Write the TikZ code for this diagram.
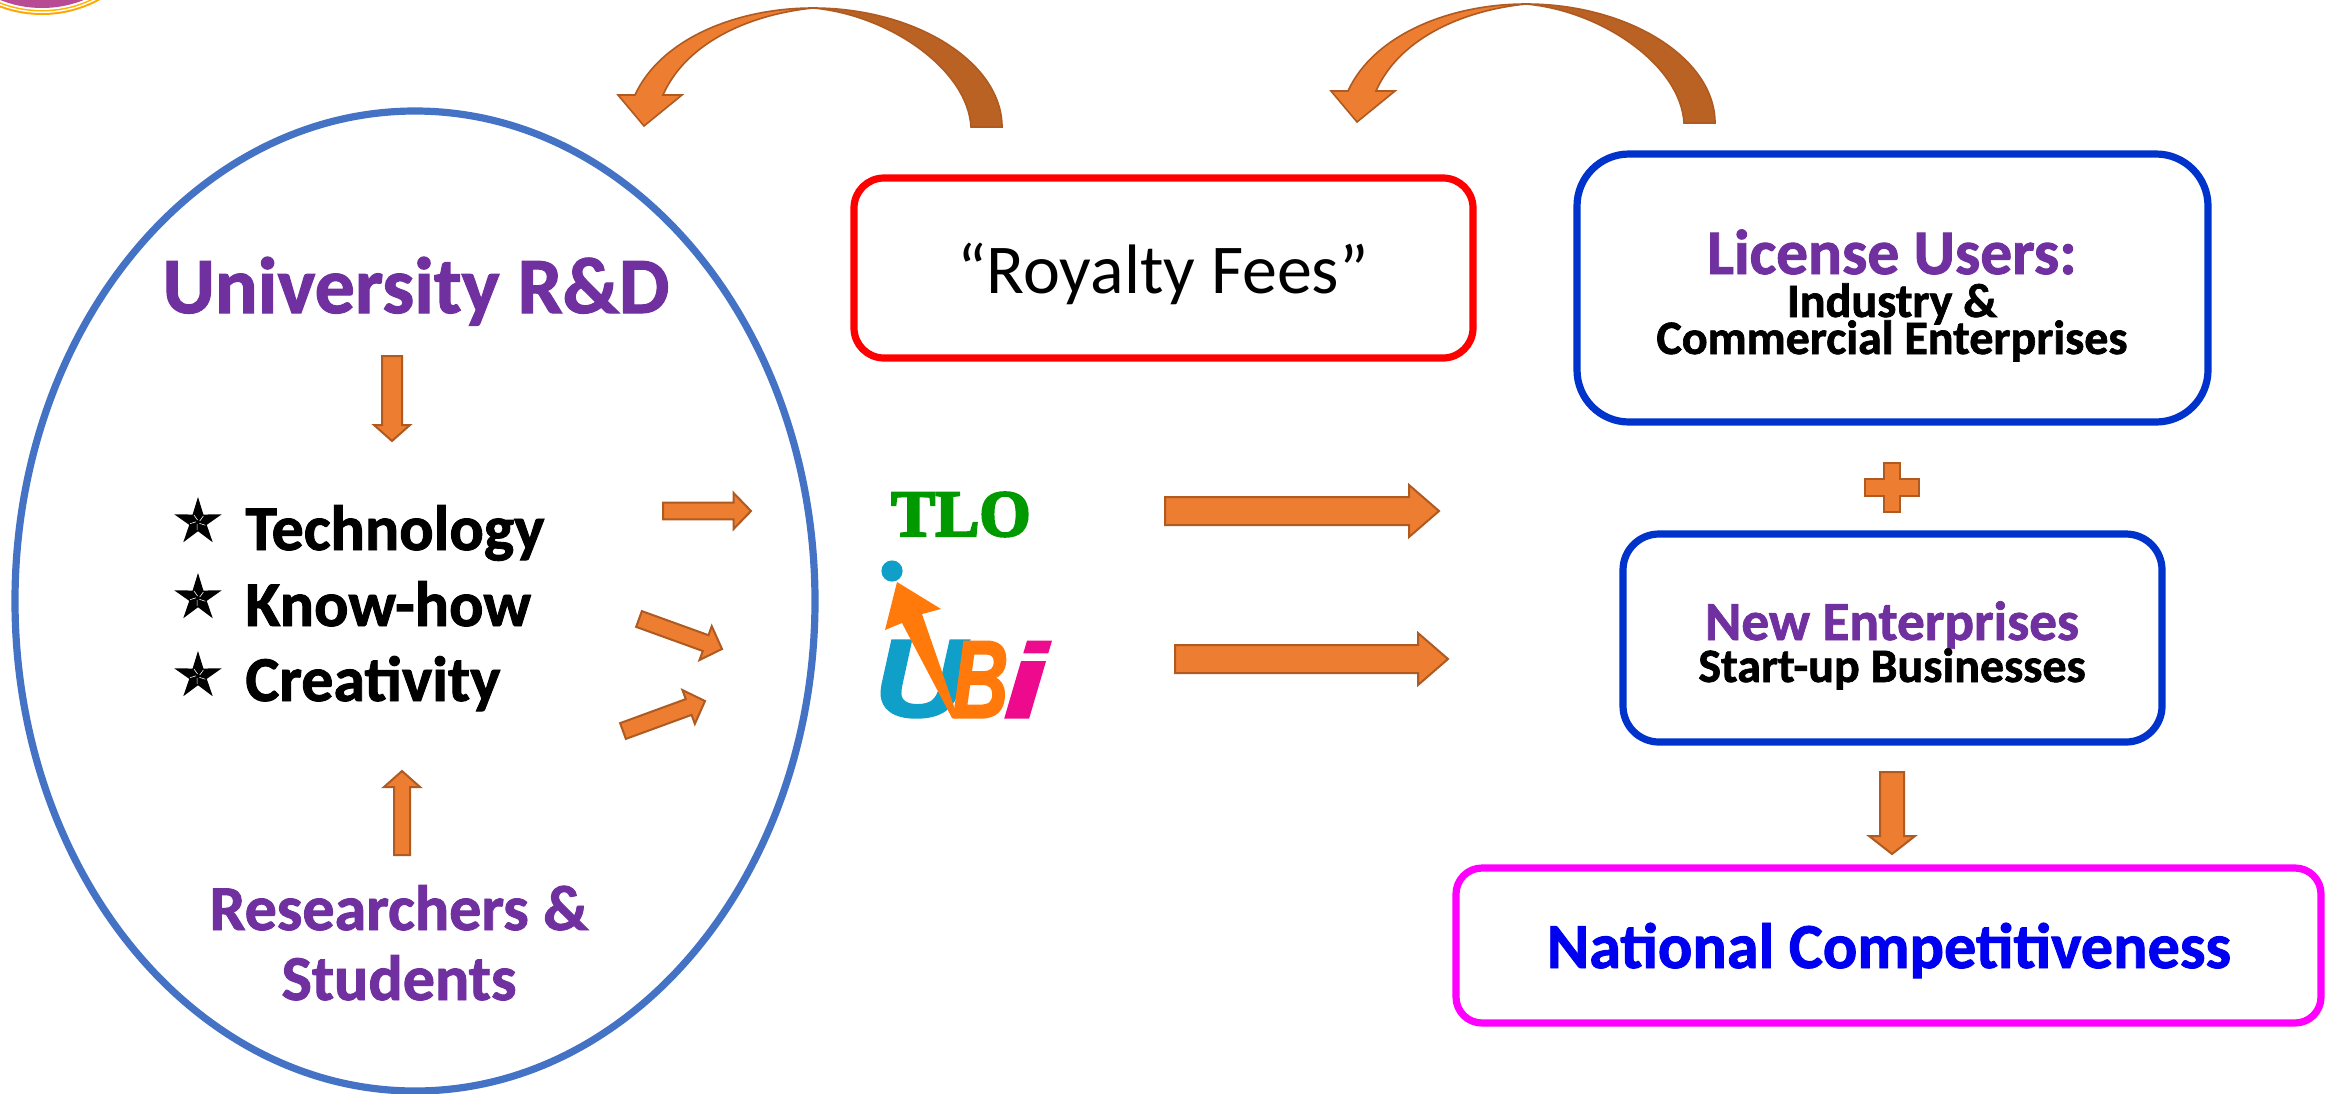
\documentclass[tikz,border=0pt]{standalone}
\usepackage{fontspec}
\usepackage{graphicx}
\setmainfont[BoldFeatures={FakeBold=1.4}]{Carlito}
\newfontfamily\lserif[BoldFeatures={FakeBold=3.5}]{Liberation Serif}
\newfontfamily\lsans[BoldItalicFeatures={FakeBold=2}]{Liberation Sans}
\usetikzlibrary{calc}
\definecolor{ored}{HTML}{ED7D31}
\definecolor{oedge}{HTML}{AE5A21}
\definecolor{odark}{HTML}{BA6224}
\definecolor{ubblue}{HTML}{0F9FC8}
\definecolor{uborange}{HTML}{FF7A0A}
\definecolor{ubpink}{HTML}{EE0A8C}
\definecolor{tlogreen}{HTML}{009900}
\definecolor{purp}{HTML}{7030A0}
\newcommand{\sz}[2]{\fontsize{#1}{#2}\selectfont}
\newcommand{\blockarrow}[5]{%
  \begin{scope}
  \coordinate (n) at ($(#2)!#5!(#1)$);
  \draw[blockarrowstyle] ($(#1)!#3!90:(#2)$) -- ($(n)!#3!90:(#2)$) -- ($(n)!#4!90:(#2)$) -- (#2)
    -- ($(n)!#4!-90:(#2)$) -- ($(n)!#3!-90:(#2)$) -- ($(#1)!#3!-90:(#2)$) -- cycle;
  \end{scope}}
\newcommand{\curvedarrow}[2]{%
  \begin{scope}[shift={(#1,#2)}]
  \draw[curvestyle,fill=odark] (1002,127) .. controls (1002,62) and (915,8) .. (813,8)
     .. controls (890,15) and (968,70) .. (971,127) -- cycle;
  \draw[curvestyle,fill=ored] (813,8) .. controls (735,8) and (660,40) .. (635,95) -- (618,95) -- (644,126) -- (682,95) -- (663,95)
     .. controls (685,45) and (745,15) .. (813,8) -- cycle;
  \end{scope}}
\newcommand{\fivestar}[1]{%
  \begin{scope}[shift={(#1)}]
  \fill[black] (90:12.5pt) -- (126:4.6pt) -- (162:12.5pt) -- (198:4.6pt) -- (234:12.5pt) -- (270:4.6pt) -- (306:12.5pt) -- (342:4.6pt) -- (18:12.5pt) -- (54:4.6pt) -- cycle;
  \foreach \a in {90,162,234,306,18}{\draw[white,line width=0.3pt] (\a+12:1pt) -- (\a+30:4pt);}
  \end{scope}}
\tikzset{
  x=0.5pt,y=-0.5pt,
  blockarrowstyle/.style={draw=oedge,fill=ored,line width=1pt,line join=miter},
  curvestyle/.style={draw=oedge,line width=0.8pt,line join=miter},
  roundbox/.style={draw,fill=white,line width=3.6pt,rounded corners=16pt},
  lbl/.style={inner sep=0pt,anchor=base,align=center},
  purpt/.style={lbl,text=purp,font=\bfseries},
  listt/.style={inner sep=0pt,anchor=base west,font=\bfseries\sz{32}{34}},
}
\begin{document}
\begin{tikzpicture}
\useasboundingbox (0,0) rectangle (2328,1093);
\fill[white] (0,0) rectangle (2328,1093);
% corner logo fragment
\begin{scope}
\clip (0,0) rectangle (2328,1093);
\fill[orange!70!yellow] (42,-105) circle[radius=60pt];
\fill[white] (42,-105) circle[radius=59pt];
\fill[orange!60!yellow] (42,-105) circle[radius=58.25pt];
\fill[white] (42,-105) circle[radius=57.5pt];
\fill[violet!60!purple!70] (42,-105) circle[radius=56.5pt];
\end{scope}
% ellipse
\node[draw=none,inner sep=0pt] (univ) at (415,601) {};
\draw[draw={rgb,255:red,68;green,114;blue,196},line width=3.6pt] (univ) ellipse[x radius=200pt,y radius=245pt];
% curved arrows
\curvedarrow{0}{0}
\curvedarrow{713}{-4}
% boxes
\draw[roundbox,draw=red,rounded corners=15pt] (854,178) rectangle (1473,358);
\draw[roundbox,draw={rgb,255:red,0;green,51;blue,204},rounded corners=26pt] (1577,154) rectangle (2208,422);
\draw[roundbox,draw={rgb,255:red,0;green,51;blue,204},rounded corners=18pt] (1623,534) rectangle (2162,742);
\draw[roundbox,draw={rgb,255:red,255;green,0;blue,255},rounded corners=13pt] (1456,868) rectangle (2321,1023);
% texts
\node[purpt,font=\bfseries\sz{40}{42}] (t1) at (416,313) {University R\&D};
\foreach \yy/\sy/\tx/\nm in {550/522/Technology/ta,626/598/Know-how/tb,701/676/Creativity/tc}{
  \fivestar{198,\sy}
  \node[listt] (\nm) at (245,\yy) {\tx};
}
\node[purpt,font=\bfseries\sz{32}{34}] (t2) at (399,930) {Researchers \&};
\node[purpt,font=\bfseries\sz{32}{34}] (t3) at (399,1000) {Students};
\node[lbl,font=\sz{35}{40},text=black] (roy) at (1163,293) {“Royalty Fees”};
\node[purpt,font=\bfseries\sz{31.7}{32}] (lic) at (1892,274) {License Users:};
\node[lbl,font=\bfseries\sz{24}{25}] (ind) at (1892,317) {Industry \&};
\node[lbl,font=\bfseries\sz{24}{25}] (com) at (1892,354) {Commercial Enterprises};
\node[purpt,font=\bfseries\sz{27.6}{28}] (ne) at (1892,640) {New Enterprises};
\node[lbl,font=\bfseries\sz{24}{25}] (st) at (1892,682) {Start-up Businesses};
\node[lbl,text={rgb,255:red,0;green,0;blue,240},font=\bfseries\sz{32.1}{34}] (nat) at (1889,968) {National Competitiveness};
% block arrows
\coordinate (a1) at (392,356); \coordinate (a2) at (392,441);
\blockarrow{a1}{a2}{5pt}{9pt}{8pt}
\coordinate (b1) at (402,855); \coordinate (b2) at (402,771);
\blockarrow{b1}{b2}{4pt}{9pt}{8pt}
\coordinate (c1) at (663,511); \coordinate (c2) at (751,511);
\blockarrow{c1}{c2}{4.2pt}{9pt}{8.7pt}
\coordinate (d1) at (639,619); \coordinate (d2) at (722,649);
\blockarrow{d1}{d2}{4.2pt}{9pt}{8.7pt}
\coordinate (e1) at (623,731); \coordinate (e2) at (705,701);
\blockarrow{e1}{e2}{4.2pt}{9pt}{8.7pt}
\coordinate (f1) at (1165,511); \coordinate (f2) at (1439,511);
\blockarrow{f1}{f2}{7pt}{13pt}{15pt}
\coordinate (g1) at (1175,659); \coordinate (g2) at (1448,659);
\blockarrow{g1}{g2}{7pt}{13pt}{15pt}
\coordinate (h1) at (1892,772); \coordinate (h2) at (1892,854);
\blockarrow{h1}{h2}{6pt}{11.5pt}{9pt}
% plus
\draw[blockarrowstyle] (1884,463)--(1900,463)--(1900,479)--(1919,479)--(1919,496)--(1900,496)--(1900,512)--(1884,512)--(1884,496)--(1865,496)--(1865,479)--(1884,479)--cycle;
% TLO
\node[lbl,font=\lserif\bfseries\sz{33}{34},text=tlogreen] (tlo) at (961,536) {TLO};
% UBi
\node[inner sep=0pt,anchor=south west,text=ubblue] (u) at (874,718) {\resizebox{46pt}{38pt}{\lsans\bfseries\itshape U}};
\node[inner sep=0pt,anchor=south west,text=uborange] (bb) at (952,718) {\resizebox{28pt}{38pt}{\lsans\bfseries\itshape B}};
\node[inner sep=0pt,anchor=south west,text=ubpink] (ii) at (1003,718) {\resizebox{22pt}{38pt}{\lsans\bfseries\itshape i}};
\fill[ubblue] (892,571) circle[radius=5.3pt];
\fill[uborange] (897,582) -- (941,609) -- (922,614) -- (958,718) -- (952,718) -- (902,623) -- (885,630) -- cycle;
\end{tikzpicture}
\end{document}
